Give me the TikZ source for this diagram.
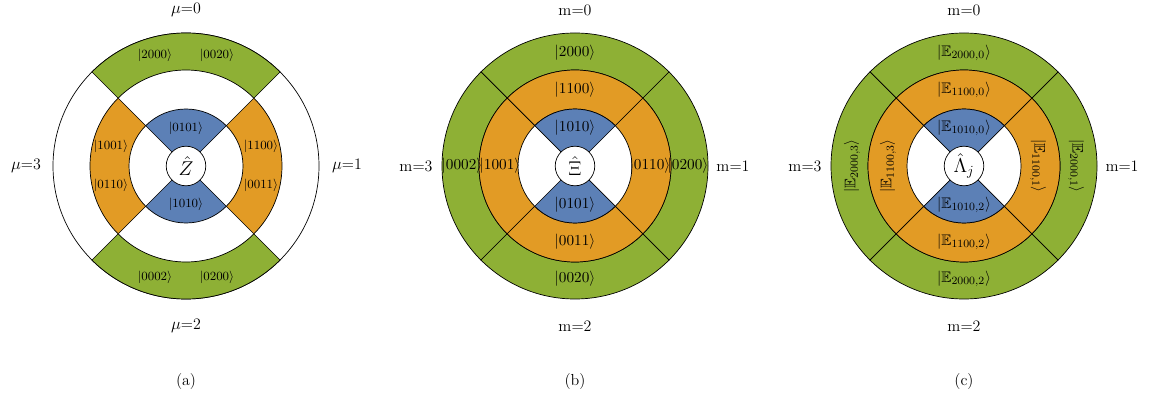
\documentclass[tikz,border=0pt]{standalone}
\usepackage{amssymb}
\definecolor{cgreen}{HTML}{8EB035}
\definecolor{corange}{HTML}{E29B25}
\definecolor{cblue}{HTML}{5C80B6}
\tikzset{
  seg/.style={draw=black, line width=0.5pt},
  ctr/.style={circle, draw, fill=white, minimum size=28.5pt, inner sep=0pt, line width=0.5pt, font=\fontsize{14}{16}\selectfont},
  ketsmall/.style={font=\fontsize{9.4}{11}\selectfont, inner sep=1pt},
  ketbig/.style={font=\fontsize{11}{13}\selectfont, inner sep=1pt},
  lab/.style={font=\fontsize{11.5}{13}\selectfont, inner sep=1pt},
}
\newcommand{\sect}[5]{%
  \filldraw[seg, fill=#1] (#2:#4) arc[start angle=#2, end angle=#3, radius=#4] -- (#3:#5) arc[start angle=#3, end angle=#2, radius=#5] -- cycle;}
\newcommand{\wedgeb}[4]{%
  \filldraw[seg, fill=#1] (0,0) -- (#2:#4) arc[start angle=#2, end angle=#3, radius=#4] -- cycle;}
\begin{document}
\begin{tikzpicture}[x=0.72pt,y=0.72pt]
\useasboundingbox (0,0) rectangle (1149,402);
% ---------- panel (a)
\begin{scope}[shift={(186,236)}]
  \draw[seg] (0,0) circle[radius=133];
  \sect{cgreen}{45}{135}{96}{133}
  \sect{cgreen}{225}{315}{96}{133}
  \sect{corange}{-45}{45}{57}{96}
  \sect{corange}{135}{225}{57}{96}
  \wedgeb{cblue}{45}{135}{57}
  \wedgeb{cblue}{225}{315}{57}
  \node[ctr] (za) at (0,0) {$\hat{Z}$};
  \node[lab] (amu0) at (0,156) {$\mu$=0};
  \node[lab] (amu2) at (0,-160) {$\mu$=2};
  \node[lab] (amu3) at (-160,0) {$\mu$=3};
  \node[lab] (amu1) at (161,0) {$\mu$=1};
  \node[ketsmall] (a2000) at (-31,111) {$|2000\rangle$};
  \node[ketsmall] (a0020) at (31,111) {$|0020\rangle$};
  \node[ketsmall] (a0002) at (-31,-111) {$|0002\rangle$};
  \node[ketsmall] (a0200) at (31,-111) {$|0200\rangle$};
  \node[ketsmall] (a1001) at (-75,20) {$|1001\rangle$};
  \node[ketsmall] (a0110) at (-75,-19) {$|0110\rangle$};
  \node[ketsmall] (a1100) at (75,20) {$|1100\rangle$};
  \node[ketsmall] (a0011) at (75,-19) {$|0011\rangle$};
  \node[ketsmall] (a0101) at (0,38) {$|0101\rangle$};
  \node[ketsmall] (a1010) at (0,-38) {$|1010\rangle$};
  \node[lab] (capa) at (0,-216) {(a)};
\end{scope}
% ---------- panel (b)
\begin{scope}[shift={(575,236)}]
  \sect{cgreen}{45}{135}{96}{133}
  \sect{cgreen}{135}{225}{96}{133}
  \sect{cgreen}{225}{315}{96}{133}
  \sect{cgreen}{-45}{45}{96}{133}
  \sect{corange}{45}{135}{57}{96}
  \sect{corange}{135}{225}{57}{96}
  \sect{corange}{225}{315}{57}{96}
  \sect{corange}{-45}{45}{57}{96}
  \wedgeb{cblue}{45}{135}{57}
  \wedgeb{cblue}{225}{315}{57}
  \node[ctr] (zb) at (0,0) {$\hat{\Xi}$};
  \node[lab] (bm0) at (0,156) {m=0};
  \node[lab] (bm2) at (0,-160) {m=2};
  \node[lab] (bm3) at (-159,0) {m=3};
  \node[lab] (bm1) at (158,0) {m=1};
  \node[ketbig] (b2000) at (0,113) {$|2000\rangle$};
  \node[ketbig] (b1100) at (0,76) {$|1100\rangle$};
  \node[ketbig] (b1010) at (0,38) {$|1010\rangle$};
  \node[ketbig] (b0101) at (0,-39) {$|0101\rangle$};
  \node[ketbig] (b0011) at (0,-76) {$|0011\rangle$};
  \node[ketbig] (b0020) at (0,-113) {$|0020\rangle$};
  \node[ketbig] (b0002) at (-113,0) {$|0002\rangle$};
  \node[ketbig] (b1001) at (-75,0) {$|1001\rangle$};
  \node[ketbig] (b0110) at (75,0) {$|0110\rangle$};
  \node[ketbig] (b0200) at (113,0) {$|0200\rangle$};
  \node[lab] (capb) at (0,-216) {(b)};
\end{scope}
% ---------- panel (c)
\begin{scope}[shift={(964,236)}]
  \sect{cgreen}{45}{135}{96}{133}
  \sect{cgreen}{135}{225}{96}{133}
  \sect{cgreen}{225}{315}{96}{133}
  \sect{cgreen}{-45}{45}{96}{133}
  \sect{corange}{45}{135}{57}{96}
  \sect{corange}{135}{225}{57}{96}
  \sect{corange}{225}{315}{57}{96}
  \sect{corange}{-45}{45}{57}{96}
  \wedgeb{cblue}{45}{135}{57}
  \wedgeb{cblue}{225}{315}{57}
  \node[ctr] (zc) at (0,0) {$\hat{\Lambda}_j$};
  \node[lab] (cm0) at (0,156) {m=0};
  \node[lab] (cm2) at (0,-160) {m=2};
  \node[lab] (cm3) at (-159,0) {m=3};
  \node[lab] (cm1) at (158,0) {m=1};
  \node[ketbig] (c20000) at (0,113) {$|\mathbb{E}_{2000,0}\rangle$};
  \node[ketbig] (c11000) at (0,76) {$|\mathbb{E}_{1100,0}\rangle$};
  \node[ketbig] (c10100) at (0,38) {$|\mathbb{E}_{1010,0}\rangle$};
  \node[ketbig] (c10102) at (0,-39) {$|\mathbb{E}_{1010,2}\rangle$};
  \node[ketbig] (c11002) at (0,-76) {$|\mathbb{E}_{1100,2}\rangle$};
  \node[ketbig] (c20002) at (0,-113) {$|\mathbb{E}_{2000,2}\rangle$};
  \node[ketbig, rotate=90] (c20003) at (-112,0) {$|\mathbb{E}_{2000,3}\rangle$};
  \node[ketbig, rotate=90] (c11003) at (-76,0) {$|\mathbb{E}_{1100,3}\rangle$};
  \node[ketbig, rotate=-90] (c11001) at (74,0) {$|\mathbb{E}_{1100,1}\rangle$};
  \node[ketbig, rotate=-90] (c20001) at (112,0) {$|\mathbb{E}_{2000,1}\rangle$};
  \node[lab] (capc) at (0,-216) {(c)};
\end{scope}
\end{tikzpicture}
\end{document}
